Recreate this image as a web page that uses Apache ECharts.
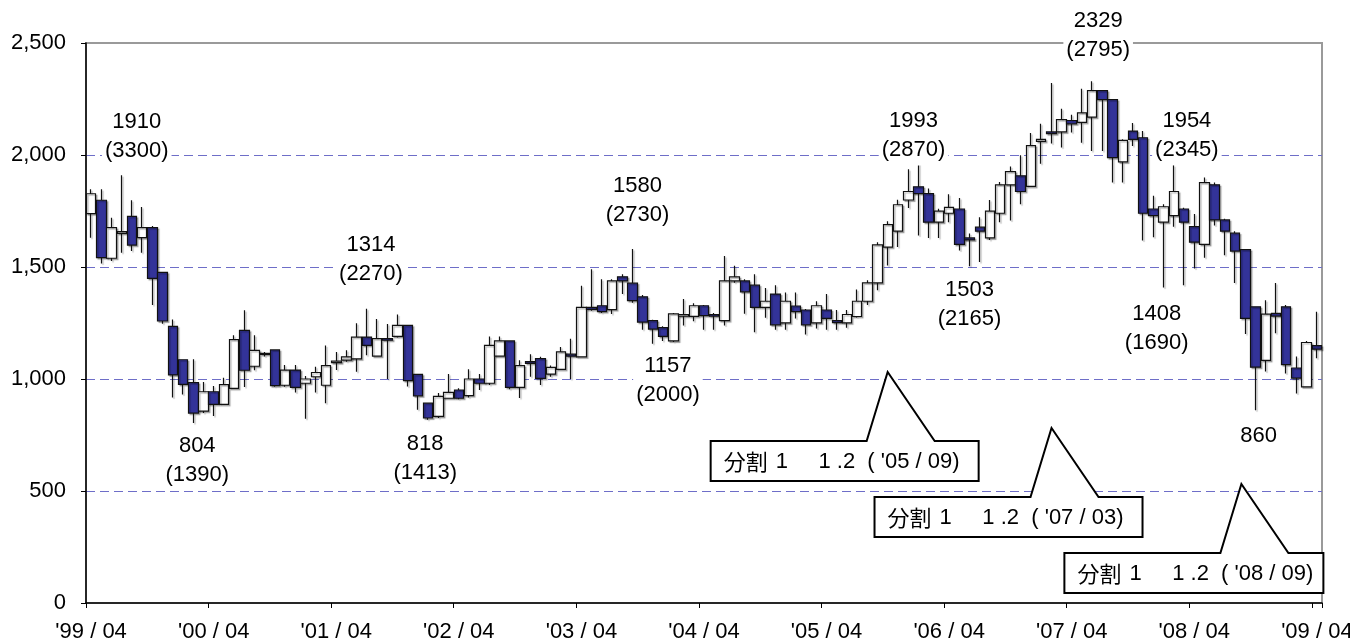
<!DOCTYPE html>
<html>
<head>
<meta charset="utf-8">
<script src="https://cdn.jsdelivr.net/npm/echarts@6/dist/echarts.min.js"></script>
<style>
  html, body { margin: 0; padding: 0; background: #fff; }
  #chart { width: 1350px; height: 644px; }
</style>
</head>
<body>
<div id="chart"></div>
<script>
// months '99/04 .. '09/04
const firstYear = 1999
const firstMonth = 4
const monthCount = 121
const months = []
for (let i = 0; i < monthCount; i++) {
  const m = firstMonth - 1 + i
  const yy = String((firstYear + Math.floor(m / 12)) % 100).padStart(2, '0')
  const mm = String((m % 12) + 1).padStart(2, '0')
  months.push("'" + yy + '/' + mm)
}

// [open, close, low, high] per month
const candles = [
  // '99/04 - '99/12
  [1738, 1827, 1631, 1847], [1798, 1542, 1516, 1847], [1539, 1676, 1527, 1720],
  [1650, 1658, 1564, 1910], [1726, 1598, 1571, 1798], [1631, 1676, 1564, 1768],
  [1676, 1449, 1330, 1683], [1476, 1259, 1247, 1476], [1235, 1018, 917, 1266],
  // '00
  [1086, 976, 931, 1086], [984, 848, 804, 1088], [857, 943, 848, 987],
  [943, 887, 835, 969], [887, 975, 887, 1006], [958, 1176, 958, 1195],
  [1217, 1039, 964, 1307], [1057, 1128, 1039, 1195], [1110, 1114, 1100, 1120],
  [1130, 970, 965, 1132], [972, 1040, 965, 1062], [1040, 963, 940, 1062],
  // '01
  [981, 1000, 822, 1013], [1010, 1029, 940, 1055], [972, 1060, 892, 1150],
  [1073, 1080, 1040, 1121], [1084, 1099, 1077, 1128], [1090, 1187, 1032, 1249],
  [1187, 1150, 1106, 1314], [1102, 1180, 1100, 1268], [1180, 1173, 1000, 1246],
  [1190, 1239, 1185, 1288], [1239, 993, 966, 1239], [1021, 925, 863, 1021],
  // '02
  [892, 826, 818, 892], [833, 922, 826, 937], [914, 940, 914, 1022],
  [951, 914, 910, 959], [926, 1000, 917, 1043], [1000, 981, 951, 1022],
  [981, 1150, 973, 1190], [1102, 1170, 1100, 1190], [1170, 963, 954, 1170],
  [963, 1060, 915, 1084], [1078, 1070, 1010, 1111], [1091, 1003, 973, 1099],
  // '03
  [1022, 1052, 1010, 1060], [1043, 1121, 1040, 1143], [1111, 1102, 1000, 1180],
  [1099, 1320, 1099, 1416], [1320, 1311, 1305, 1490], [1327, 1301, 1295, 1445],
  [1310, 1438, 1290, 1445], [1456, 1438, 1379, 1468], [1428, 1350, 1340, 1580],
  [1367, 1254, 1220, 1375], [1261, 1223, 1157, 1265], [1229, 1190, 1170, 1235],
  // '04
  [1170, 1291, 1165, 1295], [1281, 1288, 1239, 1357], [1280, 1327, 1258, 1338],
  [1327, 1283, 1220, 1330], [1288, 1281, 1220, 1295], [1261, 1438, 1239, 1549],
  [1438, 1456, 1430, 1506], [1438, 1389, 1291, 1445], [1419, 1320, 1209, 1468],
  [1320, 1347, 1273, 1406], [1379, 1242, 1220, 1419], [1251, 1347, 1220, 1386],
  // '05
  [1326, 1301, 1270, 1386], [1308, 1242, 1199, 1312], [1251, 1327, 1225, 1347],
  [1308, 1271, 1220, 1379], [1261, 1252, 1220, 1308], [1251, 1288, 1229, 1308],
  [1279, 1347, 1275, 1400], [1347, 1429, 1330, 1441], [1429, 1599, 1396, 1610],
  [1589, 1689, 1507, 1704], [1660, 1778, 1589, 1800], [1799, 1837, 1763, 1936],
  // '06
  [1858, 1828, 1641, 1993], [1828, 1700, 1630, 1850], [1700, 1749, 1630, 1760],
  [1740, 1766, 1700, 1825], [1759, 1601, 1574, 1808], [1630, 1621, 1503, 1650],
  [1678, 1660, 1522, 1722], [1630, 1749, 1620, 1799], [1740, 1867, 1700, 1880],
  [1867, 1926, 1708, 1949], [1907, 1837, 1780, 1999], [1860, 2042, 1860, 2098],
  // '07
  [2061, 2070, 1961, 2140], [2103, 2095, 2051, 2321], [2103, 2158, 2033, 2207],
  [2154, 2139, 2100, 2180], [2146, 2188, 2055, 2296], [2169, 2287, 2018, 2329],
  [2287, 2247, 2018, 2290], [2247, 1988, 1877, 2247], [1969, 2065, 1877, 2070],
  [2107, 2070, 2040, 2143], [2077, 1740, 1618, 2107], [1759, 1729, 1633, 1818],
  // '08
  [1700, 1769, 1408, 1780], [1729, 1837, 1680, 1954], [1759, 1700, 1419, 1765],
  [1680, 1611, 1493, 1737], [1601, 1877, 1541, 1899], [1867, 1710, 1685, 1877],
  [1710, 1660, 1552, 1715], [1651, 1571, 1429, 1660], [1578, 1271, 1201, 1580],
  [1322, 1053, 860, 1322], [1083, 1290, 1034, 1352], [1293, 1281, 1204, 1429],
  // '09
  [1322, 1064, 1024, 1330], [1049, 1004, 935, 1101], [965, 1163, 965, 1170],
  [1149, 1133, 1093, 1300]
]

const yTicks = [0, 500, 1000, 1500, 2000, 2500]

// highs / lows marked on the chart (price, with unadjusted price in brackets)
const extremeMonths = ["'99/07", "'00/02", "'01/07", "'02/01", "'03/09", "'03/11",
  "'06/01", "'06/06", "'07/06", "'08/02", "'08/01", "'08/10"]
const extremeValues = [1910, 804, 1314, 818, 1580, 1157, 1993, 1503, 2329, 1954, 1408, 860]
const extremeTexts = ['1910\n(3300)', '804\n(1390)', '1314\n(2270)', '818\n(1413)',
  '1580\n(2730)', '1157\n(2000)', '1993\n(2870)', '1503\n(2165)', '2329\n(2795)',
  '1954\n(2345)', '1408\n(1690)', '860']
const extremeSides = ['top', 'bottom', 'top', 'bottom', 'top', 'bottom',
  'top', 'bottom', 'top', 'top', 'bottom', 'bottom']
// label nudges in px: [dx, gap]
const extremeNudge = [[15, 9], [4, 8], [4, 19], [-3, 9], [5, 19], [15, 7],
  [-5, -9], [0, 8], [6, 16], [13, 0], [-7, 11], [3, 10]]

// stock split callouts
const splitMonths = ["'05/09", "'07/03", "'08/09"]
const splitApexValues = [1031, 781, 531]
const splitTexts = ["1     1 .2  ( '05 / 09)", "1     1 .2  ( '07 / 03)", "1     1 .2  ( '08 / 09)"]
const splitApexDx = [10, -10, -4]
const splitBoxWidth = [268, 268, 259]

const FONT = "'Liberation Sans', Arial, sans-serif"

const chart = echarts.init(document.getElementById('chart'))

const labelData = extremeValues.map((v, i) => {
  const [dx, gap] = extremeNudge[i]
  const top = extremeSides[i] === 'top'
  return {
    value: [months.indexOf(extremeMonths[i]), v],
    label: {
      position: top ? 'top' : 'bottom',
      distance: 0,
      offset: [dx, top ? -gap : gap],
      formatter: extremeTexts[i]
    }
  }
})

chart.setOption({
  animation: false,
  backgroundColor: '#fff',
  grid: {
    left: 86,
    right: 28,
    top: 43,
    bottom: 41,
    containLabel: false,
    outerBoundsMode: 'none',
    show: true,
    borderColor: '#9a9a9a',
    borderWidth: 2
  },
  xAxis: {
    type: 'category',
    data: months,
    boundaryGap: true,
    axisLine: { lineStyle: { color: '#000', width: 1.5 } },
    axisTick: { show: true, interval: 11, length: 5, lineStyle: { color: '#000' } },
    axisLabel: {
      interval: 11,
      color: '#000',
      fontSize: 22,
      fontFamily: FONT,
      margin: 18,
      formatter: (v) => v.replace('/', ' / ')
    },
    splitLine: { show: false }
  },
  yAxis: {
    type: 'value',
    min: yTicks[0],
    max: yTicks[yTicks.length - 1],
    interval: yTicks[1] - yTicks[0],
    axisLine: { show: true, lineStyle: { color: '#000', width: 1.5 } },
    axisTick: { show: true, length: 5, lineStyle: { color: '#000' } },
    axisLabel: {
      color: '#000',
      fontSize: 22,
      fontFamily: FONT,
      margin: 20,
      formatter: (v) => v.toLocaleString('en-US')
    },
    splitLine: {
      show: true,
      showMinLine: false,
      showMaxLine: false,
      lineStyle: { color: '#6e6ec8', type: [9, 5], width: 1 }
    }
  },
  series: [
    {
      type: 'candlestick',
      data: candles,
      barWidth: 10,
      itemStyle: {
        color: '#ffffff',
        color0: '#333399',
        borderColor: '#111',
        borderColor0: '#111',
        borderWidth: 1.2,
        shadowColor: 'rgba(0,0,0,0.28)',
        shadowOffsetX: 1.5,
        shadowOffsetY: 1.5,
        shadowBlur: 1
      },
      z: 2
    },
    {
      type: 'scatter',
      data: labelData,
      symbolSize: 0,
      silent: true,
      z: 5,
      itemStyle: { opacity: 1 },
      label: {
        show: true,
        color: '#000',
        fontSize: 22,
        lineHeight: 29,
        fontFamily: FONT,
        align: 'center',
        backgroundColor: '#fff',
        padding: [1, 3]
      }
    }
  ]
})

// callouts placed from their data coordinates
function drawCallouts() {
  const graphics = []
  splitMonths.forEach((m, i) => {
    const p = chart.convertToPixel({ gridIndex: 0 }, [months.indexOf(m), splitApexValues[i]])
    const ax = p[0] + splitApexDx[i]
    const ay = p[1]
    const bx = ax - 177
    const by = ay + 69
    const w = splitBoxWidth[i]
    const h = 40
    graphics.push({
      type: 'polygon',
      z: 10,
      shape: {
        points: [[bx, by], [ax - 21, by], [ax, ay], [ax + 47, by], [bx + w, by],
          [bx + w, by + h], [bx, by + h]]
      },
      style: { fill: '#fff', stroke: '#000', lineWidth: 2 }
    })
    graphics.push({
      type: 'text',
      z: 11,
      x: bx + 13,
      y: by + h / 2 + 1,
      style: {
        text: '{c|分割}{s| }{n|' + splitTexts[i] + '}',
        verticalAlign: 'middle',
        rich: {
          c: { fontSize: 22, fontFamily: "'Noto Sans CJK JP', sans-serif", fill: '#000' },
          s: { fontSize: 22, fontFamily: FONT, width: 8 },
          n: { fontSize: 22, fontFamily: FONT, fill: '#000' }
        }
      }
    })
  })
  chart.setOption({ graphic: graphics })
}
drawCallouts()
</script>
</body>
</html>
